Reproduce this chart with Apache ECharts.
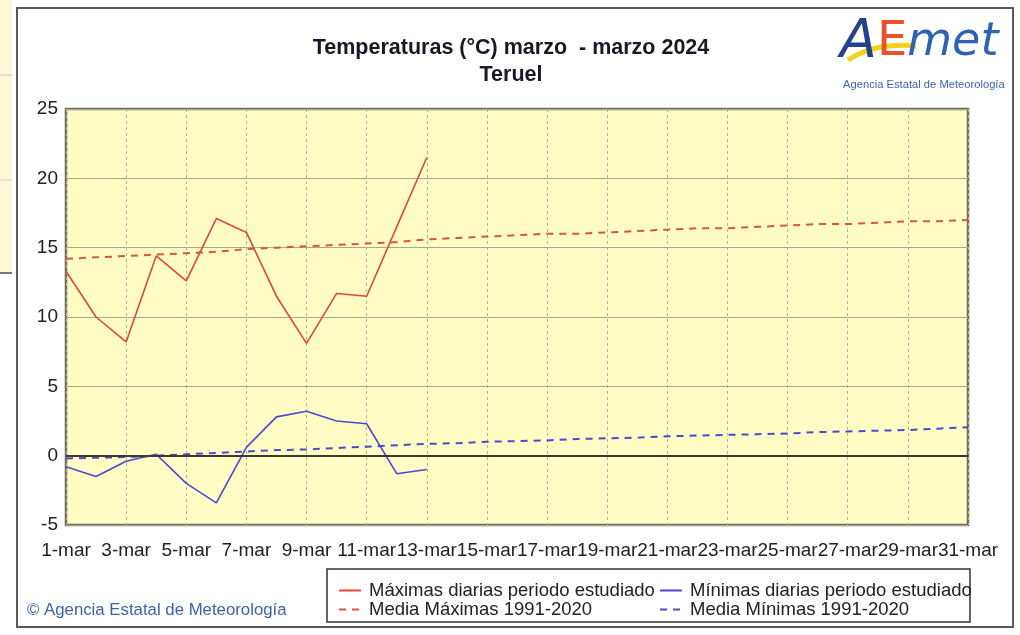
<!DOCTYPE html>
<html>
<head>
<meta charset="utf-8">
<script src="https://cdn.jsdelivr.net/npm/echarts@6/dist/echarts.min.js"></script>
<style>
  html, body { margin: 0; padding: 0; background: #fff; }
  #chart { width: 1020px; height: 635px; }
</style>
</head>
<body>
<div id="chart"></div>
<script>
// etiquetas del eje x (días de marzo)
const days = ['1-mar', '2-mar', '3-mar', '4-mar', '5-mar', '6-mar', '7-mar', '8-mar', '9-mar', '10-mar',
  '11-mar', '12-mar', '13-mar', '14-mar', '15-mar', '16-mar', '17-mar', '18-mar', '19-mar', '20-mar',
  '21-mar', '22-mar', '23-mar', '24-mar', '25-mar', '26-mar', '27-mar', '28-mar', '29-mar', '30-mar', '31-mar']
// valores
const maxDaily = [13.3, 10.0, 8.2, 14.4, 12.6, 17.1, 16.1, 11.5, 8.1, 11.7, 11.5, 16.5, 21.5]
const minDaily = [-0.8, -1.5, -0.4, 0.1, -2.0, -3.4, 0.6, 2.8, 3.2, 2.5, 2.3, -1.3, -1.0]
const meanMax = [14.2, 14.3, 14.4, 14.5, 14.6, 14.7, 14.9, 15.0, 15.1, 15.2, 15.3, 15.4, 15.6, 15.7, 15.8, 15.9,
  16.0, 16.0, 16.1, 16.2, 16.3, 16.4, 16.4, 16.5, 16.6, 16.7, 16.7, 16.8, 16.9, 16.9, 17.0]
const meanMin = [-0.2, -0.15, -0.1, 0.0, 0.1, 0.2, 0.3, 0.4, 0.45, 0.55, 0.65, 0.75, 0.85, 0.9, 1.0, 1.05,
  1.1, 1.2, 1.25, 1.3, 1.4, 1.45, 1.5, 1.55, 1.6, 1.7, 1.75, 1.8, 1.85, 1.95, 2.05]
const yTicks = [-5, 0, 5, 10, 15, 20, 25]

const chart = echarts.init(document.getElementById('chart'))
const font = '"Liberation Sans", Arial, sans-serif'

const legendBase = {
  top: 576, orient: 'vertical', itemGap: 0, itemWidth: 22, itemHeight: 14,
  itemStyle: { opacity: 0 },
  textStyle: { fontFamily: font, fontSize: 18.5, lineHeight: 17, color: '#222', padding: [0, 0, 0, 3] }
}

const option = {
  backgroundColor: '#fff',
  animation: false,
  title: {
    left: 506, textAlign: 'center', top: 30,
    text: 'Temperaturas (°C) marzo  - marzo 2024\nTeruel',
    textStyle: { fontFamily: font, fontSize: 21.5, fontWeight: 'bold', color: '#181826', lineHeight: 27 }
  },
  grid: {
    left: 66, right: 52, top: 109, bottom: 110,
    show: true, backgroundColor: '#fffcc4', borderColor: '#6e6e58', borderWidth: 2.5
  },
  legend: [
    Object.assign({ left: 333, data: ['Máximas diarias periodo estudiado', 'Media Máximas 1991-2020'] }, legendBase),
    Object.assign({ left: 654, data: ['Mínimas diarias periodo estudiado', 'Media Mínimas 1991-2020'] }, legendBase)
  ],
  xAxis: {
    type: 'category', data: days, boundaryGap: false,
    axisLine: { show: false }, axisTick: { show: false },
    axisLabel: { interval: 1, margin: 16, showMaxLabel: true, showMinLabel: true, fontFamily: font, fontSize: 19, color: '#222' },
    splitLine: { show: true, interval: 1, lineStyle: { color: '#b5b098', type: [3, 3], width: 1 } }
  },
  yAxis: {
    type: 'value', min: yTicks[0], max: yTicks[yTicks.length - 1], interval: 5,
    axisLine: { show: false }, axisTick: { show: false },
    axisLabel: { margin: 8, fontFamily: font, fontSize: 19, color: '#222' },
    splitLine: { lineStyle: { color: '#a9a892', width: 1.2 } }
  },
  series: [
    {
      name: 'Máximas diarias periodo estudiado', type: 'line', data: maxDaily,
      symbol: 'none', lineStyle: { color: '#e2473e', width: 1.6 }, itemStyle: { color: '#e2473e' },
      markLine: {
        silent: true, symbol: 'none', label: { show: false },
        lineStyle: { color: '#3a3a30', type: 'solid', width: 2 },
        data: [{ yAxis: 0 }]
      }
    },
    {
      name: 'Mínimas diarias periodo estudiado', type: 'line', data: minDaily,
      symbol: 'none', lineStyle: { color: '#4a4ad2', width: 1.6 }, itemStyle: { color: '#4a4ad2' }
    },
    {
      name: 'Media Máximas 1991-2020', type: 'line', data: meanMax,
      symbol: 'none', lineStyle: { color: '#d9553e', width: 2, type: [7, 6] }, itemStyle: { color: '#d9553e' }
    },
    {
      name: 'Media Mínimas 1991-2020', type: 'line', data: meanMin,
      symbol: 'none', lineStyle: { color: '#4b4bcc', width: 2, type: [7, 6] }, itemStyle: { color: '#4b4bcc' }
    }
  ],
  graphic: [
    // resto de la captura a la izquierda
    { type: 'rect', shape: { x: 0, y: 0, width: 12, height: 272 }, style: { fill: '#fdf8d6' }, z: -1 },
    { type: 'line', shape: { x1: 0, y1: 75, x2: 12, y2: 75 }, style: { stroke: '#c8c8c8', lineWidth: 1 } },
    { type: 'line', shape: { x1: 0, y1: 180, x2: 12, y2: 180 }, style: { stroke: '#c8c8c8', lineWidth: 1 } },
    { type: 'line', shape: { x1: 0, y1: 273, x2: 12, y2: 273 }, style: { stroke: '#777', lineWidth: 2 } },
    // marco exterior
    { type: 'rect', shape: { x: 17, y: 8, width: 996, height: 619 }, style: { fill: null, stroke: '#5a5a5a', lineWidth: 2 } },
    // caja de la leyenda
    { type: 'rect', shape: { x: 327, y: 569, width: 643, height: 53 }, style: { fill: null, stroke: '#333', lineWidth: 1.5 } },
    // pie
    {
      type: 'text', left: 27, top: 602,
      style: { text: '© Agencia Estatal de Meteorología', font: '16.8px ' + font, fill: '#3d62b0' }
    },
    // logo AEMET
    {
      type: 'bezierCurve', shape: { x1: 848, y1: 60, cpx1: 870, cpy1: 46, cpx2: 895, cpy2: 44, x2: 916, y2: 46 },
      style: { stroke: '#f2d21b', lineWidth: 5, fill: null }, z: 10
    },
    {
      type: 'text', left: 840, top: 16, z: 11,
      style: {
        text: '{a|A}{e|E}{m|met}',
        rich: {
          a: { font: 'italic 54px "DejaVu Sans"', fill: '#23418f' },
          e: { font: '48px "DejaVu Sans"', fill: '#e8512a' },
          m: { font: 'italic 46px "DejaVu Sans"', fill: '#2f62b5' }
        }
      }
    },
    {
      type: 'text', left: 843, top: 79, z: 11,
      style: { text: 'Agencia Estatal de Meteorología', font: '11.2px ' + font, fill: '#3b66b4' }
    }
  ]
}

chart.setOption(option)
</script>
</body>
</html>
